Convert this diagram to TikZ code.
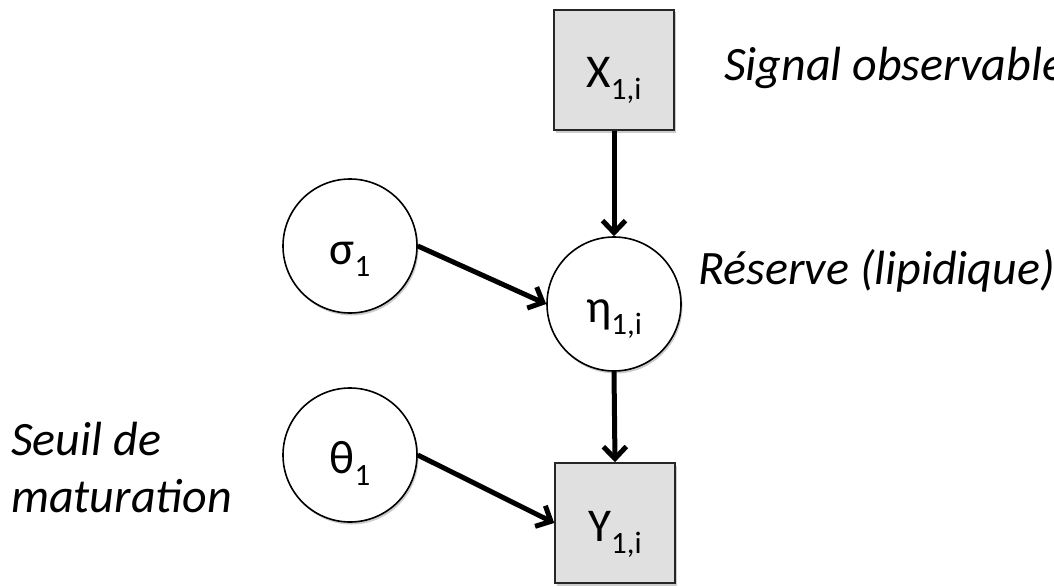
\documentclass[tikz,border=0pt]{standalone}
\usepackage{fontspec}
\setmainfont{Carlito}
\usetikzlibrary{arrows.meta,shadows}
\definecolor{boxgray}{RGB}{224,224,224}
\newcommand\sublab[2]{#1\raisebox{-12pt}{\fontsize{31}{31}\selectfont #2}}
\begin{document}
\begin{tikzpicture}[x=1pt,y=-1pt,
  softshadow/.style={drop shadow={shadow xshift=1.5pt,shadow yshift=-2.5pt,opacity=0.2,fill=black}},
  labtext/.style={font=\fontsize{47}{57}\selectfont, text height=50pt, text depth=14pt},
  varnode/.style={circle, draw=black, line width=1.6pt, fill=white, minimum size=134pt, inner sep=0pt, labtext, softshadow},
  obsnode/.style={rectangle, draw=black!85, line width=1.6pt, fill=boxgray, minimum width=120pt, minimum height=120pt, inner sep=0pt, labtext, softshadow},
  edge/.style={line width=5pt, -{Straight Barb[length=12pt,width=23pt]}},
  note/.style={font=\itshape\fontsize{48}{57}\selectfont, anchor=base west, inner sep=0pt, align=left}]
\useasboundingbox (0,0) rectangle (1054,586);
\fill[white] (0,0) rectangle (1054,586);

\node[obsnode] (X) at (614,70) {\sublab{X}{1,i}};
\node[varnode] (eta) at (614,304) {\sublab{η}{1,i}};
\node[varnode] (sigma) at (350,246) {\sublab{σ}{1}};
\node[varnode] (theta) at (350,455) {\sublab{θ}{1}};
\node[obsnode] (Y) at (615,523) {\sublab{Y}{1,i}};

\node[note] (sig) at (724,80) {Signal observable};
\node[note] (res) at (698,284) {Réserve (lipidique)};
\node[note] (seuil) at (11,512) {Seuil de\\maturation};

\draw[edge] (X.south) -- (eta.north);
\draw[edge] (eta.south) -- (Y.north);
\draw[edge] (sigma.east) -- (eta.west);
\draw[edge] (theta.east) -- (Y.west);
\end{tikzpicture}
\end{document}
